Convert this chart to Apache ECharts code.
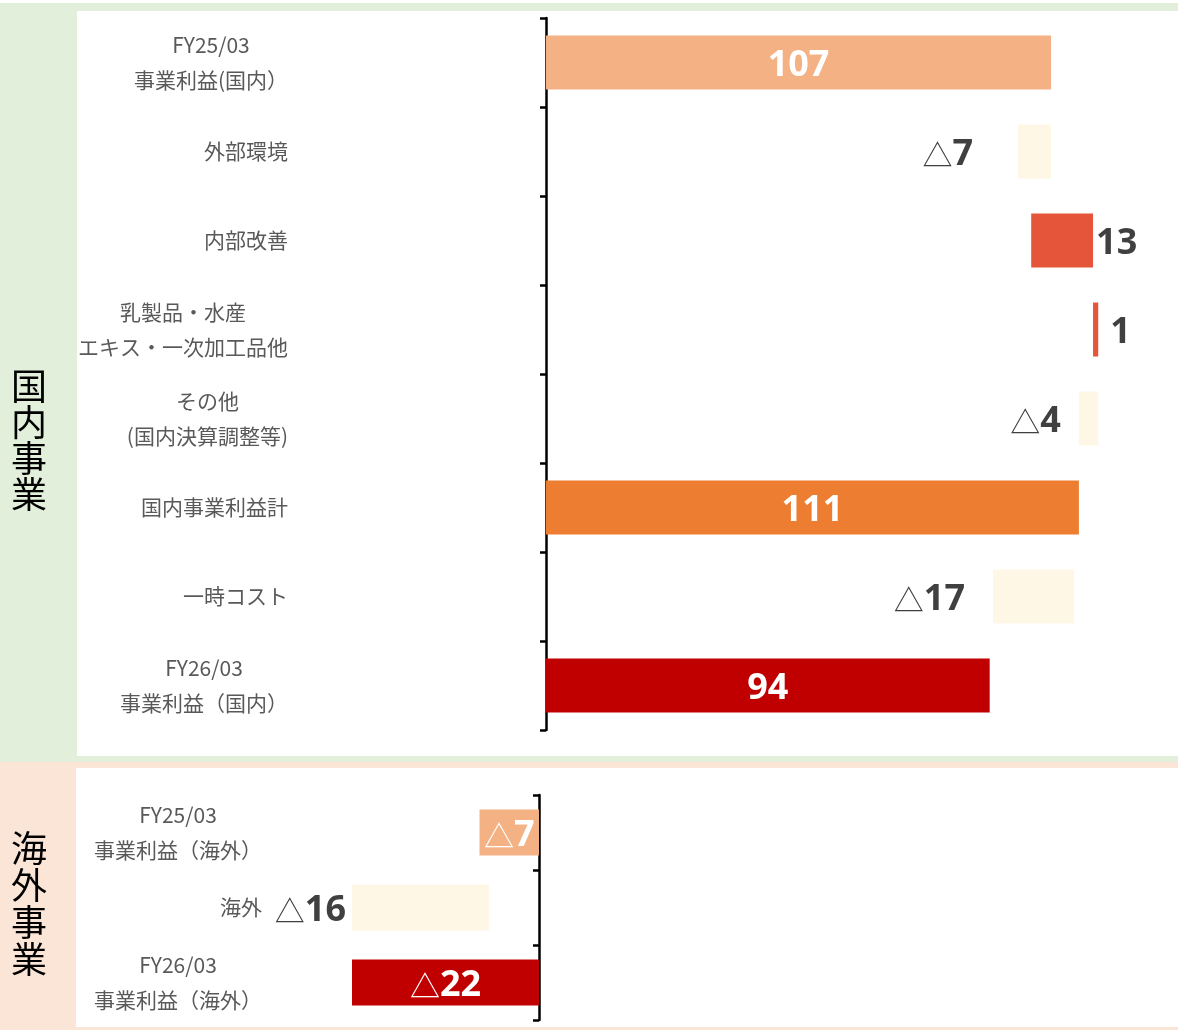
<!DOCTYPE html>
<html><head><meta charset="utf-8">
<script src="https://cdn.jsdelivr.net/npm/echarts@6/dist/echarts.min.js"></script>
<style>html,body{margin:0;padding:0;background:#fff}#c{width:1178px;height:1030px}</style>
</head><body><div id="c"></div>
<script>
// ---- data ----
const domesticCategories = ['FY25/03\n事業利益(国内）', '外部環境', '内部改善', '乳製品・水産\nエキス・一次加工品他', 'その他\n(国内決算調整等)', '国内事業利益計', '一時コスト', 'FY26/03\n事業利益（国内）'];
const domesticLabels = [107, -7, 13, 1, -4, 111, -17, 94];
const domesticStart = [0, 100.0, 102.8, 115.9, 112.9, 0, 94.7, 0];
const domesticEnd = [107, 107, 115.9, 117.0, 117.0, 112.9, 111.9, 94];
const domesticKind = ['total', 'down', 'up', 'up', 'down', 'total', 'down', 'total'];

const overseasCategories = ['FY25/03\n事業利益（海外）', '海外', 'FY26/03\n事業利益（海外）'];
const overseasLabels = [-7, -16, -22];
const overseasStart = [0, -5.9, 0];
const overseasEnd = [-7, -22, -22];
const overseasKind = ['total', 'down', 'total'];

// ---- styles ----
const domesticColors = ['#F4B183', '#FFF7E5', '#E5553A', '#E5553A', '#FFF7E5', '#ED7D31', '#FFF7E5', '#C00000'];
const domesticGap = [0, 45, 3, 12, 18, 0, 28, 0];
const overseasColors = ['#F4B183', '#FFF7E5', '#C00000'];
const overseasGap = [0, 6, 0];
const CJK = '"Noto Sans CJK JP", sans-serif';
const NUM = '"Noto Sans", "Open Sans", sans-serif';

function richFor(color) {
  return {
    t: { fontFamily: CJK, fontSize: 30, fontWeight: 'normal', color: color },
    n: { fontFamily: NUM, fontSize: 36, fontWeight: 'bold', color: color }
  };
}
function fmtVal(v) { return v < 0 ? '{t|△}{n|' + Math.abs(v) + '}' : '{n|' + v + '}'; }
function catLabel(s) { return s.split('\n').map(l => '{c|' + l + '}').join('\n'); }

function buildItems(start, end, labels, kinds, colors, gaps) {
  return start.map((s, i) => {
    const kind = kinds[i];
    let label;
    if (kind === 'total') {
      label = { show: true, position: 'inside', offset: [0, 3], formatter: fmtVal(labels[i]), rich: richFor('#ffffff') };
    } else {
      label = { show: true, position: kind === 'down' ? 'left' : 'right', offset: [0, 3],
        distance: gaps[i], formatter: fmtVal(labels[i]), rich: richFor('#404040') };
    }
    return { value: +(end[i] - s).toFixed(2), itemStyle: { color: colors[i] }, label: label };
  });
}

const axisLineStyle = { show: true, lineStyle: { color: '#000', width: 2.5 } };
const axisTickStyle = { show: true, interval: 0, inside: false, length: 6, lineStyle: { color: '#000', width: 2.5 } };
const catRich = { c: { align: 'center', fontFamily: CJK, fontSize: 21, lineHeight: 35, color: '#595959' } };

const chart = echarts.init(document.getElementById('c'), null, { renderer: 'canvas' });
chart.setOption({
  animation: false,
  backgroundColor: '#ffffff',
  graphic: [
    { type: 'rect', z: 0, shape: { x: 0, y: 3, width: 1178, height: 759 }, style: { fill: '#E2EFDA' } },
    { type: 'rect', z: 0, shape: { x: 77, y: 11, width: 1101, height: 745 }, style: { fill: '#FFFFFF' } },
    { type: 'rect', z: 0, shape: { x: 0, y: 762, width: 1178, height: 268 }, style: { fill: '#FBE5D6' } },
    { type: 'rect', z: 0, shape: { x: 76, y: 768, width: 1102, height: 259 }, style: { fill: '#FFFFFF' } },
    { type: 'text', z: 1, x: 29, y: 440, style: { text: '国\n内\n事\n業', font: '36px "Noto Sans CJK JP"', lineHeight: 36, fill: '#000', textAlign: 'center', textVerticalAlign: 'middle' } },
    { type: 'text', z: 1, x: 29, y: 904, style: { text: '海\n外\n事\n業', font: '36px "Noto Sans CJK JP"', lineHeight: 37, fill: '#000', textAlign: 'center', textVerticalAlign: 'middle' } }
  ],
  grid: [
    { left: 546, top: 18, width: 613.6, height: 712, containLabel: false, outerBoundsMode: 'none' },
    { left: 284, top: 795, width: 255, height: 225, containLabel: false, outerBoundsMode: 'none' }
  ],
  xAxis: [
    { gridIndex: 0, type: 'value', min: 0, max: 130, show: false, splitLine: { show: false } },
    { gridIndex: 1, type: 'value', min: -30, max: 0, show: false, splitLine: { show: false } }
  ],
  yAxis: [
    { gridIndex: 0, type: 'category', inverse: true, data: domesticCategories,
      axisLine: axisLineStyle, axisTick: axisTickStyle,
      axisLabel: { margin: 258, interval: 0, formatter: catLabel, rich: catRich } },
    { gridIndex: 1, type: 'category', inverse: true, data: overseasCategories,
      axisLine: Object.assign({ onZero: true }, axisLineStyle), axisTick: axisTickStyle,
      axisLabel: { margin: 22, interval: 0, formatter: catLabel, rich: catRich } }
  ],
  series: [
    { type: 'bar', name: 'dbase', xAxisIndex: 0, yAxisIndex: 0, stack: 'd', stackStrategy: 'all', barWidth: 54, silent: true,
      itemStyle: { color: 'rgba(0,0,0,0)' }, data: domesticStart },
    { type: 'bar', name: 'ddelta', xAxisIndex: 0, yAxisIndex: 0, stack: 'd', stackStrategy: 'all', barWidth: 54,
      data: buildItems(domesticStart, domesticEnd, domesticLabels, domesticKind, domesticColors, domesticGap) },
    { type: 'bar', name: 'obase', xAxisIndex: 1, yAxisIndex: 1, stack: 'o', stackStrategy: 'all', barWidth: 46, silent: true,
      itemStyle: { color: 'rgba(0,0,0,0)' }, data: overseasStart },
    { type: 'bar', name: 'odelta', xAxisIndex: 1, yAxisIndex: 1, stack: 'o', stackStrategy: 'all', barWidth: 46,
      data: buildItems(overseasStart, overseasEnd, overseasLabels, overseasKind, overseasColors, overseasGap) }
  ]
});
</script></body></html>
